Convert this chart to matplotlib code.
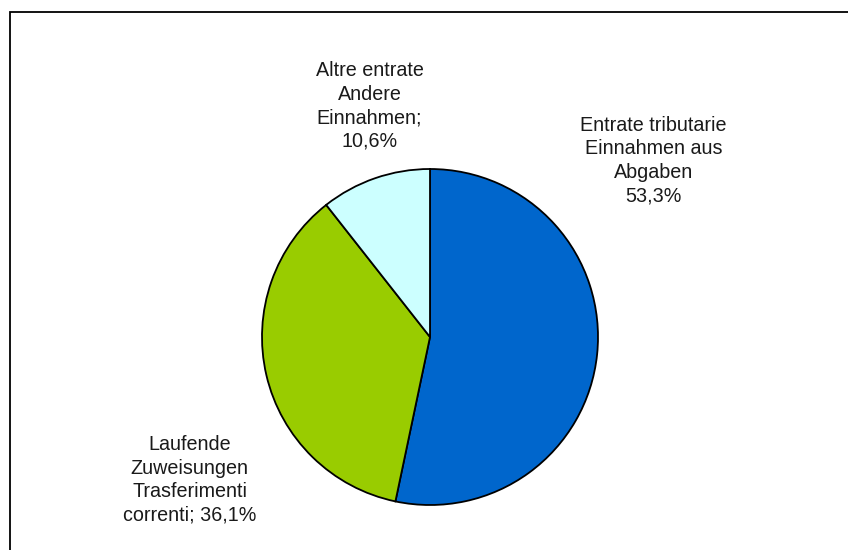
import matplotlib.pyplot as plt
from matplotlib.patches import Rectangle

# Quote percentuali delle entrate
etichette = ['Entrate tributarie\nEinnahmen aus\nAbgaben\n53,3%',
             'Laufende\nZuweisungen\nTrasferimenti\ncorrenti; 36,1%',
             'Altre entrate\nAndere\nEinnahmen;\n10,6%']
valori = [53.3, 36.1, 10.6]
colori = ['#0066CC', '#99CC00', '#CCFFFF']
# posizione delle etichette (in raggi dal centro)
pos_etichette = [(1.33, 1.05), (-1.43, -0.85), (-0.36, 1.375)]

plt.rcParams['font.family'] = ['Liberation Sans', 'DejaVu Sans']

fig = plt.figure(figsize=(8.48, 5.5), dpi=100)

# cornice del grafico
fig.patches.append(Rectangle((10/848, -0.1), 1.0, 1 - 12/550 + 0.1,
                             transform=fig.transFigure, fill=False,
                             edgecolor='black', linewidth=1.3))

ax = fig.add_axes([262/848, 45/550, 336/848, 336/550])
ax.pie(valori, colors=colori, startangle=90, counterclock=False,
       wedgeprops=dict(edgecolor='black', linewidth=1.3))
for testo, (x, y) in zip(etichette, pos_etichette):
    ax.text(x, y, testo, ha='center', va='center', fontsize=14.2,
            color='#1a1a1a', linespacing=1.3)
ax.set_xlim(-1, 1)
ax.set_ylim(-1, 1)
ax.set_aspect('equal')
ax.axis('off')

fig.savefig('out.png', dpi=100)
